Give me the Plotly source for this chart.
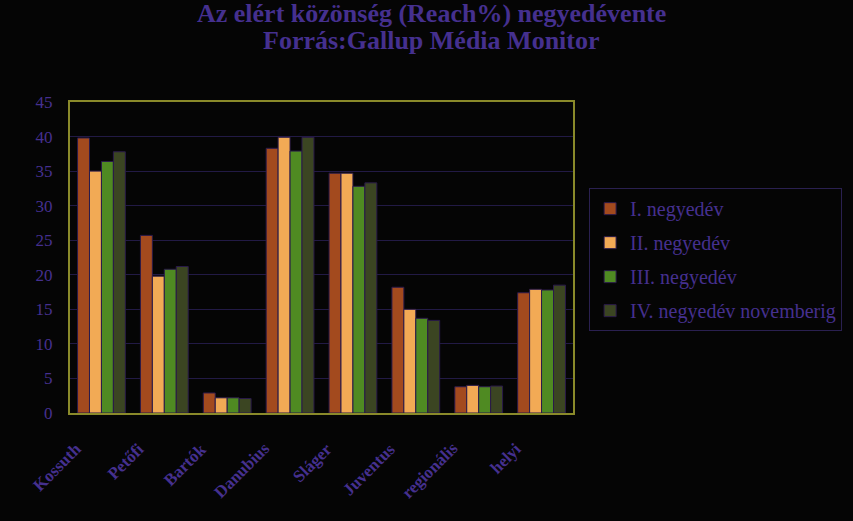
import plotly.graph_objects as go

categories = ["Kossuth", "Petőfi", "Bartók", "Danubius", "Sláger", "Juventus", "regionális", "helyi"]
series_names = ["I. negyedév", "II. negyedév", "III. negyedév", "IV. negyedév novemberig"]
q1 = [39.8, 25.7, 2.9, 38.3, 34.7, 18.2, 3.8, 17.4]
q2 = [35.0, 19.8, 2.2, 39.9, 34.7, 15.0, 4.0, 17.9]
q3 = [36.4, 20.8, 2.2, 37.9, 32.8, 13.7, 3.8, 17.8]
q4 = [37.8, 21.2, 2.1, 39.9, 33.3, 13.4, 3.9, 18.5]
y_ticks = [0, 5, 10, 15, 20, 25, 30, 35, 40, 45]
title_lines = ["Az elért közönség (Reach%) negyedévente", "Forrás:Gallup Média Monitor"]

colors = ["#A34A1E", "#F2AA55", "#4F8A22", "#3B4522"]
text_color = "#45308F"
bg = "#050505"
font_family = "Liberation Serif, Times New Roman, serif"

fig = go.Figure()
for name, vals, col in zip(series_names, [q1, q2, q3, q4], colors):
    fig.add_trace(go.Bar(
        x=categories, y=vals, name=name, legendgroup=name,
        marker=dict(color=col, line=dict(color="#2a1a4a", width=1)),
    ))

fig.add_annotation(text="<b>" + title_lines[0] + "</b>", xref="paper", yref="paper",
                   x=0.718, y=1.283, xanchor="center", yanchor="middle", showarrow=False,
                   font=dict(family=font_family, size=26, color=text_color))
fig.add_annotation(text="<b>" + title_lines[1] + "</b>", xref="paper", yref="paper",
                   x=0.718, y=1.199, xanchor="center", yanchor="middle", showarrow=False,
                   font=dict(family=font_family, size=26, color=text_color))

for cat in categories:
    fig.add_annotation(text="<b>" + cat + "</b>", xref="x", yref="paper",
                       x=cat, y=-0.075, xanchor="right", yanchor="top", xshift=-14,
                       textangle=-45, showarrow=False,
                       font=dict(family=font_family, size=17, color=text_color))

fig.update_layout(
    width=853, height=521,
    paper_bgcolor=bg, plot_bgcolor=bg,
    margin=dict(l=70, r=280, t=102, b=108, autoexpand=False),
    barmode="group", bargap=0.24, bargroupgap=0.0,
    font=dict(family=font_family, color=text_color, size=13),
    legend=dict(
        x=1.032, xanchor="left", y=0.723, yanchor="top",
        bgcolor=bg, bordercolor="#2a2050", borderwidth=1,
        font=dict(family=font_family, size=20, color=text_color),
        tracegroupgap=5,
    ),
    xaxis=dict(
        range=[-0.5, len(categories) - 0.5], autorange=False,
        showticklabels=False,
        showline=True, linecolor="#8a8a2a", linewidth=2, mirror=True,
        showgrid=False, ticks="",
    ),
    yaxis=dict(
        range=[0, 45], tickvals=y_ticks,
        tickfont=dict(family=font_family, size=17, color=text_color),
        showline=True, linecolor="#8a8a2a", linewidth=2, mirror=True,
        showgrid=True, gridcolor="#221a45", gridwidth=1,
        zeroline=False, ticks="", ticklabelstandoff=12,
    ),
)

fig.write_html(
    "out.html",
    config={"displayModeBar": False},
    post_script="document.body.style.margin='0';document.body.style.background='#050505';document.body.style.overflow='hidden';",
)
